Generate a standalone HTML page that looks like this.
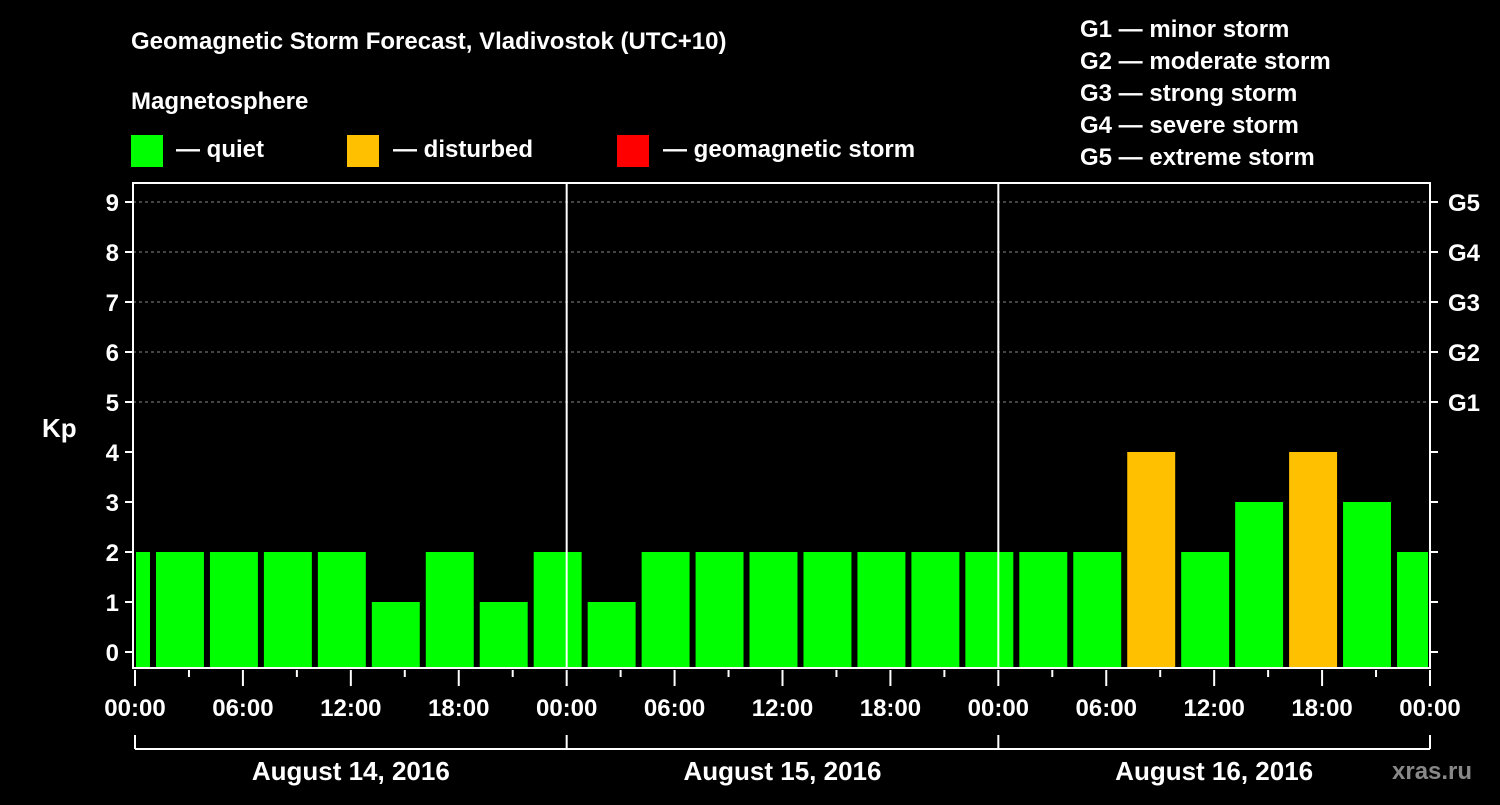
<!DOCTYPE html>
<html><head><meta charset="utf-8"><style>
body{margin:0;background:#000;}
svg text{font-family:"Liberation Sans",sans-serif;font-weight:bold;fill:#fff;}
</style></head><body>
<svg id="c" width="1500" height="800" xmlns="http://www.w3.org/2000/svg">
<rect width="1500" height="800" fill="#000"/>
<text x="131" y="49" font-size="24">Geomagnetic Storm Forecast, Vladivostok (UTC+10)</text>
<text x="131" y="109" font-size="24">Magnetosphere</text>
<rect x="131" y="135" width="32" height="32" fill="#00ff00"/>
<text x="176" y="157" font-size="24">— quiet</text>
<rect x="347" y="135" width="32" height="32" fill="#ffc000"/>
<text x="393" y="157" font-size="24">— disturbed</text>
<rect x="617" y="135" width="32" height="32" fill="#ff0000"/>
<text x="663" y="157" font-size="24">— geomagnetic storm</text>
<g font-size="24">
<text x="1080" y="37">G1 — minor storm</text>
<text x="1080" y="69">G2 — moderate storm</text>
<text x="1080" y="101">G3 — strong storm</text>
<text x="1080" y="133">G4 — severe storm</text>
<text x="1080" y="165">G5 — extreme storm</text>
</g>
<text x="42" y="437" font-size="26">Kp</text>
<text x="1392" y="779" font-size="24" fill="#888" style="fill:#888">xras.ru</text>
<g id="plot"></g>
</svg>
<script>
const kpValues=[2,2,2,2,2,1,2,1,2,1,2,2,2,2,2,2,2,2,2,4,2,3,4,3,2];
const firstBinHour=-2;
const binHours=3;
const yTicks=[0,1,2,3,4,5,6,7,8,9];
const gLabels=["G1","G2","G3","G4","G5"];
const xTickLabels=["00:00","06:00","12:00","18:00","00:00","06:00","12:00","18:00","00:00","06:00","12:00","18:00","00:00"];
const dayLabels=["August 14, 2016","August 15, 2016","August 16, 2016"];
const NS="http://www.w3.org/2000/svg";
const L=133,R=1430,T=183,B=668,x0=135,pxH=(1430-135)/72;
const X=h=>x0+h*pxH, Y=k=>652-50*k;
const g=document.getElementById('plot');
function mk(t,a){const e=document.createElementNS(NS,t);for(const k in a)e.setAttribute(k,a[k]);g.appendChild(e);return e;}
yTicks.forEach(k=>{
 if(k>=5){const l=mk('line',{x1:L,x2:R,y1:Y(k),y2:Y(k),stroke:'#888','stroke-dasharray':'3,3'});
 
 }
 const t=mk('line',{x1:L-8,x2:L,y1:Y(k),y2:Y(k),stroke:'#fff','stroke-width':2});
 
 
 const t2=mk('line',{x1:R,x2:R+8,y1:Y(k),y2:Y(k),stroke:'#fff','stroke-width':2});
 
 
 const tx=mk('text',{x:L-14,y:Y(k)+9,'font-size':24,'text-anchor':'end'});tx.textContent=k;
 
 
});
gLabels.forEach((s,i)=>{const tx=mk('text',{x:1448,y:Y(5+i)+9,'font-size':24});tx.textContent=s;
 
 });
kpValues.forEach((v,i)=>{
 const h0=firstBinHour+i*binHours;
 let a=X(h0)+3,b=X(h0+binHours)-3;a=Math.max(a,L+3);b=Math.min(b,R-2);
 const r=mk('rect',{x:a,y:Y(v),width:b-a,height:B-Y(v),fill:v>=5?'#ff0000':v>=4?'#ffc000':'#00ff00'});
 
 
});
[1,2].forEach(d=>{const l=mk('line',{x1:X(24*d),x2:X(24*d),y1:T,y2:B,stroke:'#fff','stroke-width':2});
 
 });
const fr=mk('rect',{x:L,y:T,width:R-L,height:B-T,fill:'none',stroke:'#fff','stroke-width':2});


for(let h=0;h<=72;h+=3){const maj=h%6==0;const l=mk('line',{x1:X(h),x2:X(h),y1:B+2,y2:B+(maj?18:9),stroke:'#fff','stroke-width':2});
 
 }
xTickLabels.forEach((s,i)=>{const tx=mk('text',{x:X(i*6),y:716,'font-size':24,'text-anchor':'middle'});tx.textContent=s;
 
 });
const bl=mk('line',{x1:X(0),x2:X(72),y1:749,y2:749,stroke:'#fff','stroke-width':2});


for(let d=0;d<=3;d++){const l=mk('line',{x1:X(24*d),x2:X(24*d),y1:735,y2:749,stroke:'#fff','stroke-width':2});
 
 }
dayLabels.forEach((s,i)=>{const tx=mk('text',{x:X(24*i+12),y:780,'font-size':26,'text-anchor':'middle'});tx.textContent=s;
 
 });
</script>
</body></html>
